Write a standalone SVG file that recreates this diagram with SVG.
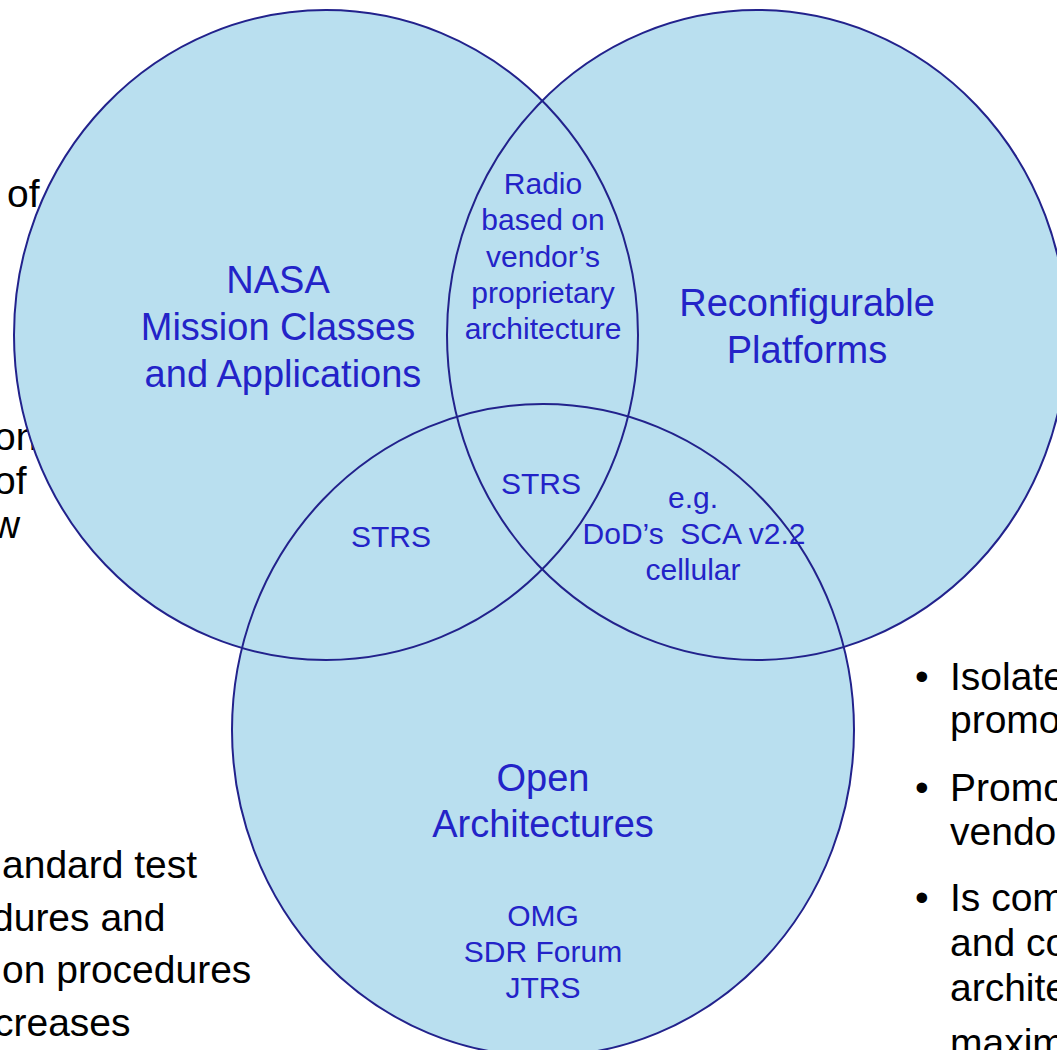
<svg xmlns="http://www.w3.org/2000/svg" xmlns:xlink="http://www.w3.org/1999/xlink" width="1057" height="1050" viewBox="0 0 1057 1050">
<style>
.bg{font-family:"Liberation Sans",Arial,sans-serif;font-size:39px;fill:#000}
.big{font-family:"Liberation Sans",Arial,sans-serif;font-size:38px;fill:#2323c8;text-anchor:middle}
.sm{font-family:"Liberation Sans",Arial,sans-serif;font-size:30px;fill:#2323c8;text-anchor:middle}
.disk{fill:#b9dfef;stroke:none}
.line{fill:none;stroke:#22228c;stroke-width:2}
</style>
<defs>
<ellipse id="e-nasa" cx="326" cy="335" rx="312" ry="325"/>
<ellipse id="e-reconf" cx="757" cy="335" rx="310" ry="325"/>
<ellipse id="e-open" cx="543" cy="730" rx="311" ry="326"/>
</defs>
<rect width="1057" height="1050" fill="#fff"/>
<g id="background-text" class="bg">
<text x="7" y="207">of</text>
<text x="-6" y="450">on</text>
<text x="-6" y="494">of</text>
<text x="-8" y="538">w</text>
<text x="2" y="878">andard test</text>
<text x="-8" y="931">dures and</text>
<text x="2" y="983">on procedures</text>
<text x="-6" y="1036">creases</text>
<text x="915" y="690">•</text>
<text x="950" y="690">Isolate</text>
<text x="950" y="733">promo</text>
<text x="915" y="801">•</text>
<text x="950" y="801">Promo</text>
<text x="950" y="845">vendo</text>
<text x="915" y="911">•</text>
<text x="950" y="911">Is com</text>
<text x="950" y="956">and co</text>
<text x="950" y="1001">archite</text>
<text x="950" y="1056">maxim</text>
</g>
<g id="node-nasa">
<use xlink:href="#e-nasa" class="disk"/>
<text class="big" x="278" y="293">NASA</text>
<text class="big" x="278" y="340">Mission Classes</text>
<text class="big" x="283" y="387">and Applications</text>
</g>
<g id="node-reconfigurable">
<use xlink:href="#e-reconf" class="disk"/>
<text class="big" x="807" y="316">Reconfigurable</text>
<text class="big" x="807" y="363">Platforms</text>
</g>
<g id="node-open">
<use xlink:href="#e-open" class="disk"/>
<text class="big" x="543" y="791">Open</text>
<text class="big" x="543" y="837">Architectures</text>
<text class="sm" x="543" y="926">OMG</text>
<text class="sm" x="543" y="962">SDR Forum</text>
<text class="sm" x="543" y="998">JTRS</text>
</g>
<g id="outlines">
<use xlink:href="#e-nasa" class="line"/>
<use xlink:href="#e-reconf" class="line"/>
<use xlink:href="#e-open" class="line"/>
</g>
<g id="connectors"></g>
<g id="intersection-labels">
<g id="overlap-nasa-reconf">
<text class="sm" x="543" y="194">Radio</text>
<text class="sm" x="543" y="230">based on</text>
<text class="sm" x="543" y="267">vendor’s</text>
<text class="sm" x="543" y="303">proprietary</text>
<text class="sm" x="543" y="339">architecture</text>
</g>
<g id="overlap-all">
<text class="sm" x="541" y="494">STRS</text>
</g>
<g id="overlap-nasa-open">
<text class="sm" x="391" y="547">STRS</text>
</g>
<g id="overlap-reconf-open">
<text class="sm" x="693" y="508">e.g.</text>
<text class="sm" x="694" y="544" xml:space="preserve" style="white-space:pre">DoD’s  SCA v2.2</text>
<text class="sm" x="693" y="580">cellular</text>
</g>
</g>
</svg>
